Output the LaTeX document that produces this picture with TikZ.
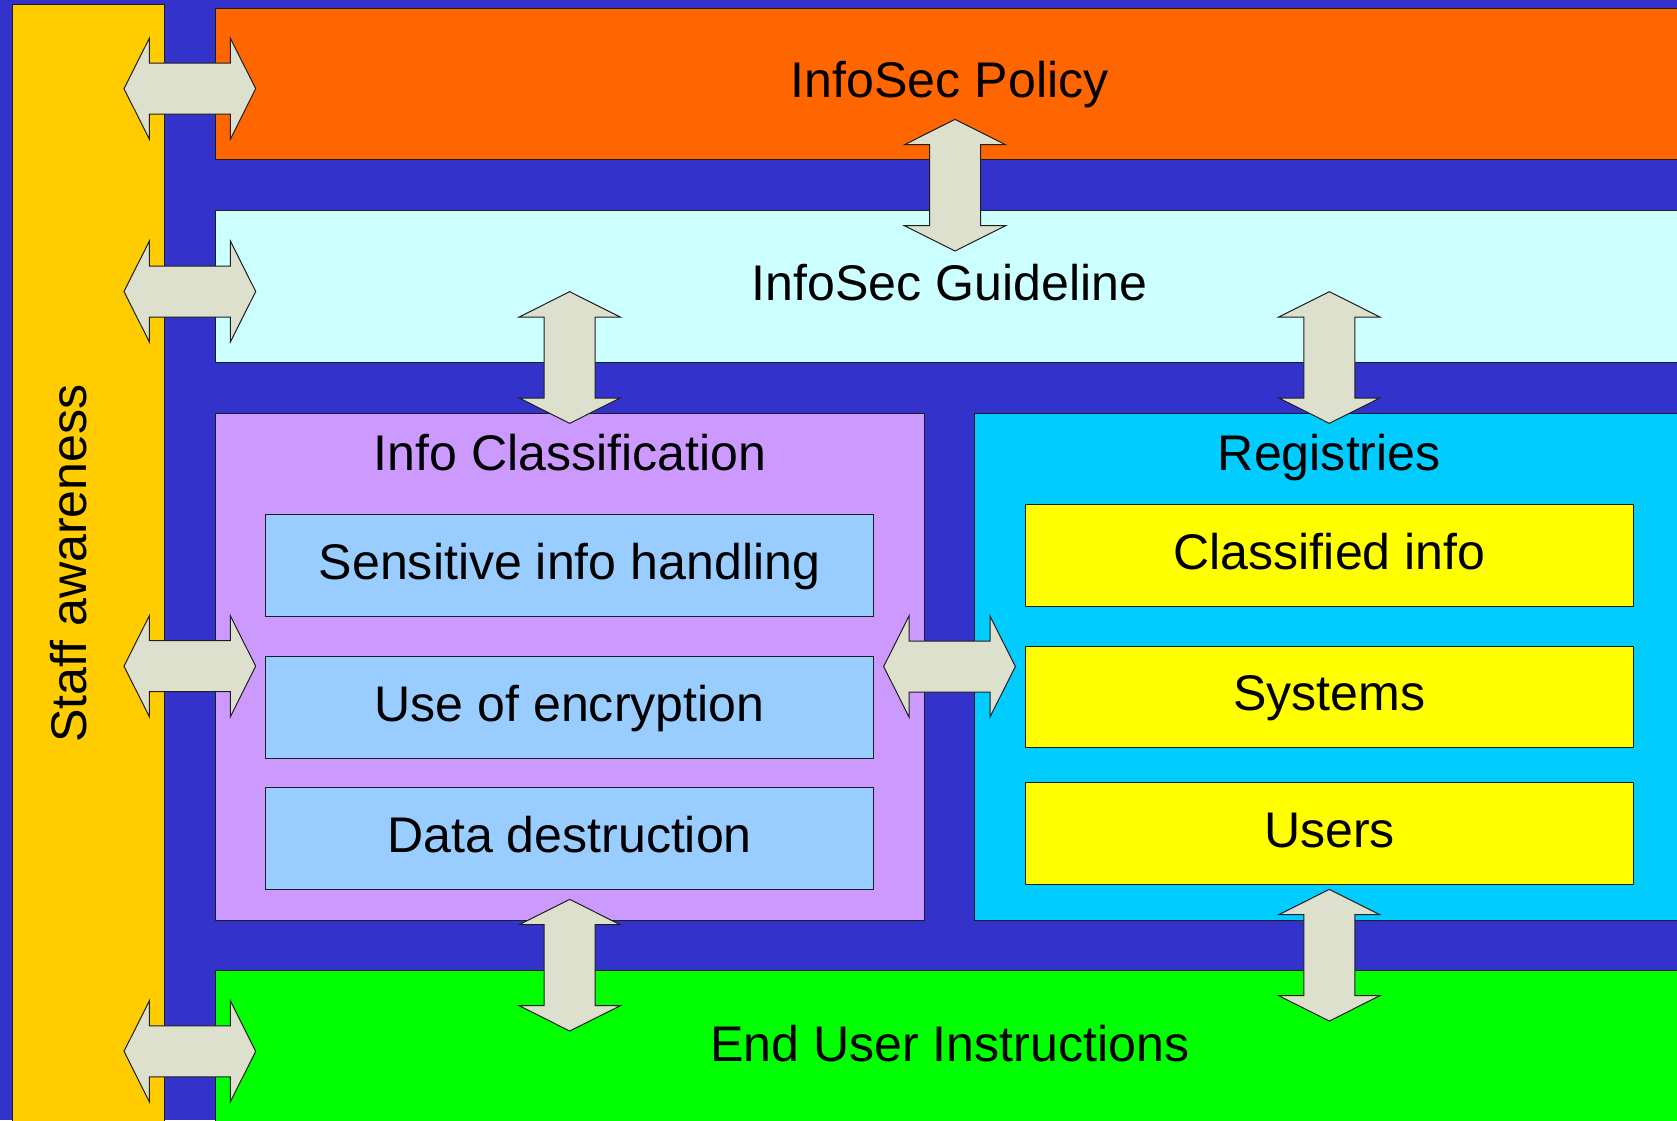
\documentclass[tikz,border=0pt]{standalone}
\usepackage{fontspec}
\setmainfont{Liberation Sans}
\definecolor{bgblue}{RGB}{51,51,204}
\definecolor{staffyel}{RGB}{255,204,0}
\definecolor{polorange}{RGB}{255,102,0}
\definecolor{guidecyan}{RGB}{204,255,255}
\definecolor{classpurple}{RGB}{204,153,255}
\definecolor{regcyan}{RGB}{0,204,255}
\definecolor{itemblue}{RGB}{153,204,255}
\definecolor{itemyellow}{RGB}{255,255,0}
\definecolor{endgreen}{RGB}{0,255,0}
\definecolor{arrowgrey}{RGB}{221,224,204}
\definecolor{edge}{RGB}{30,30,30}
\begin{document}
\begin{tikzpicture}[x=1pt,y=-1pt,
  panel/.style={draw=edge,line width=1pt,rectangle,inner sep=0pt,outer sep=0pt},
  lbl/.style={font=\fontsize{50.1}{60}\selectfont,text=black,inner sep=0pt,anchor=base},
  arrowfill/.style={fill=arrowgrey,draw=edge,line width=1pt,line join=miter},
  dblarrow/.pic={\path[arrowfill] (-65.85,0) -- (-40.5,50.5) -- (-40.5,25.5) -- (40.5,25.5) -- (40.5,50.5) -- (65.85,0) -- (40.5,-50.5) -- (40.5,-25.5) -- (-40.5,-25.5) -- (-40.5,-50.5) -- cycle;}
]
\useasboundingbox (0,0) rectangle (1677,1120);
\begin{scope}[overlay]
\clip (0,0) rectangle (1677,1120);
\fill[bgblue] (0,0) rectangle (1677,1120);

% panels
\node[panel,fill=staffyel,minimum width=152pt,minimum height=1125.7pt] (staff) at (88.3,567) {};
\node[panel,fill=polorange,minimum width=1468pt,minimum height=151.7pt] (policy) at (949.7,83.85) {};
\node[panel,fill=guidecyan,minimum width=1468pt,minimum height=151.6pt] (guide) at (949.7,286.5) {};
\node[panel,fill=classpurple,minimum width=708.8pt,minimum height=507pt] (class) at (569.9,666.5) {};
\node[panel,fill=regcyan,minimum width=708.9pt,minimum height=506.7pt] (reg) at (1329.25,666.65) {};
\node[panel,fill=endgreen,minimum width=1468pt,minimum height=159.7pt] (enduser) at (949.7,1050.15) {};

\node[panel,fill=itemblue,minimum width=607.6pt,minimum height=101.7pt] (sens) at (569.5,565.15) {};
\node[panel,fill=itemblue,minimum width=607.6pt,minimum height=101.7pt] (enc) at (569.5,707.15) {};
\node[panel,fill=itemblue,minimum width=607.6pt,minimum height=101.7pt] (dest) at (569.5,838.45) {};
\node[panel,fill=itemyellow,minimum width=607.6pt,minimum height=101.7pt] (cinfo) at (1329.5,555.15) {};
\node[panel,fill=itemyellow,minimum width=607.6pt,minimum height=101.7pt] (sys) at (1329.5,696.85) {};
\node[panel,fill=itemyellow,minimum width=607.6pt,minimum height=101.5pt] (users) at (1329.5,833.3) {};

% texts
\node[lbl] (tpolicy) at (949.7,97.9) {InfoSec Policy};
\node[lbl] (tguide) at (949.7,300.5) {InfoSec Guideline};
\node[lbl] (tclass) at (569.9,470.7) {Info Classification};
\node[lbl] (treg) at (1329.3,470.7) {Registries};
\node[lbl] (tsens) at (569.5,579.2) {Sensitive info handling};
\node[lbl] (tenc) at (569.5,721.2) {Use of encryption};
\node[lbl] (tdest) at (569.5,852.5) {Data destruction};
\node[lbl] (tcinfo) at (1329.5,569.2) {Classified info};
\node[lbl] (tsys) at (1329.5,710.9) {Systems};
\node[lbl] (tusers) at (1329.5,847.3) {Users};
\node[lbl] (tend) at (949.7,1061.7) {End User Instructions};
\node[lbl,rotate=90] (tstaff) at (86.2,563.6) {Staff awareness};

% arrow positions
\coordinate (la1) at (189.85,88.7);
\coordinate (la2) at (189.85,291.5);
\coordinate (la3) at (189.85,666.2);
\coordinate (la4) at (189.85,1051.3);
\coordinate (ma) at (949.5,666.5);
\coordinate (va1) at (955,185.2);
\coordinate (va2) at (569.7,357.5);
\coordinate (va3) at (1329.3,357.5);
\coordinate (va4) at (569.7,965.2);
\coordinate (va5) at (1329.3,955.2);

% double arrows
\pic at (la1) {dblarrow};
\pic at (la2) {dblarrow};
\pic at (la3) {dblarrow};
\pic at (la4) {dblarrow};
\pic at (ma) {dblarrow};
\pic[rotate=90] at (va1) {dblarrow};
\pic[rotate=90] at (va2) {dblarrow};
\pic[rotate=90] at (va3) {dblarrow};
\pic[rotate=90] at (va4) {dblarrow};
\pic[rotate=90] at (va5) {dblarrow};
\end{scope}
\end{tikzpicture}
\end{document}
